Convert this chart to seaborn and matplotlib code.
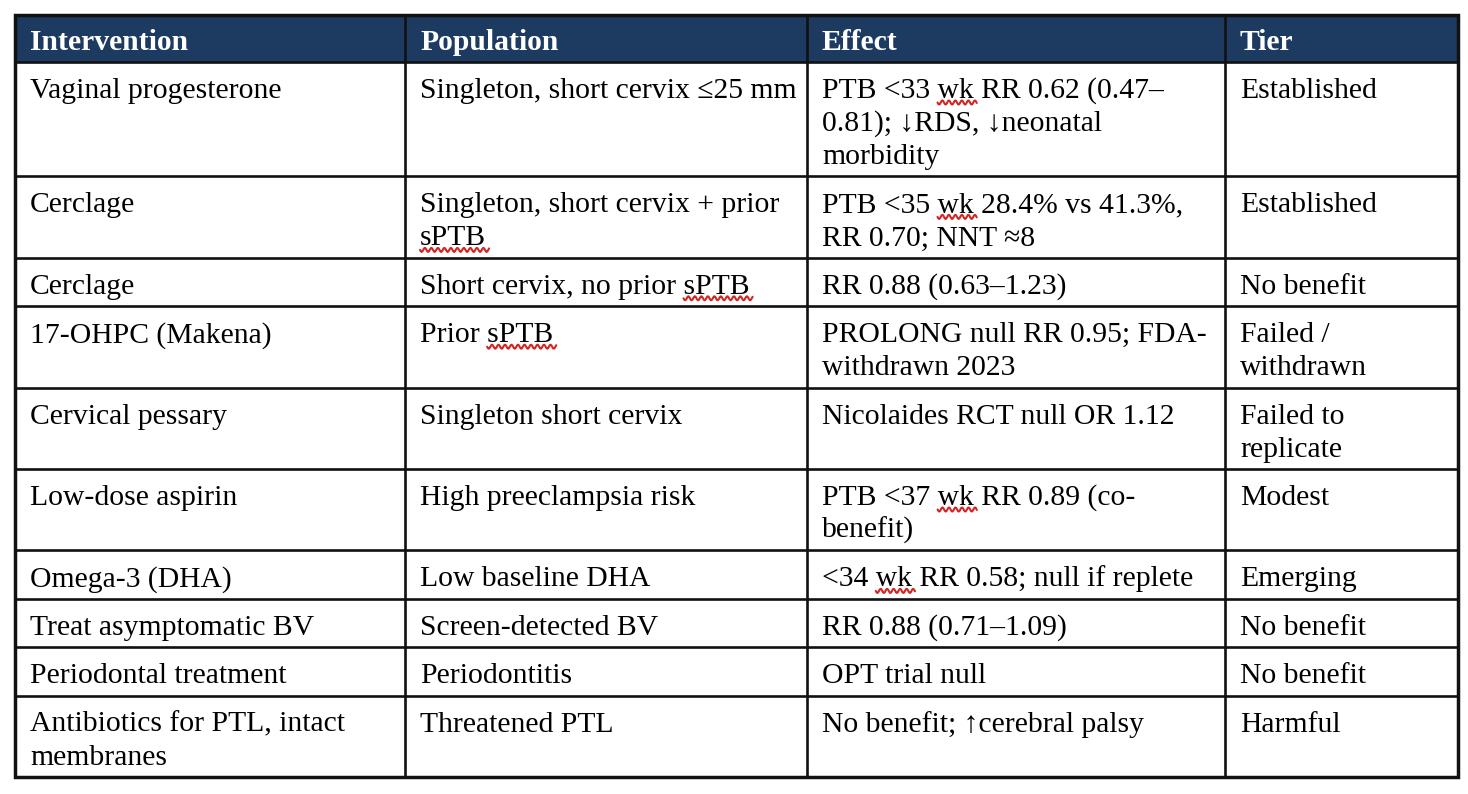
import numpy as np
import seaborn as sns
import matplotlib
matplotlib.use("Agg")
import matplotlib.pyplot as plt
from matplotlib.patches import Rectangle
from matplotlib.font_manager import FontProperties

# Table content
columns = ["Intervention", "Population", "Effect", "Tier"]
interventions = [
    "Vaginal progesterone",
    "Cerclage",
    "Cerclage",
    "17-OHPC (Makena)",
    "Cervical pessary",
    "Low-dose aspirin",
    "Omega-3 (DHA)",
    "Treat asymptomatic BV",
    "Periodontal treatment",
    "Antibiotics for PTL, intact\nmembranes",
]
populations = [
    "Singleton, short cervix ≤25 mm",
    "Singleton, short cervix + prior\nsPTB",
    "Short cervix, no prior sPTB",
    "Prior sPTB",
    "Singleton short cervix",
    "High preeclampsia risk",
    "Low baseline DHA",
    "Screen-detected BV",
    "Periodontitis",
    "Threatened PTL",
]
effects = [
    "PTB <33 wk RR 0.62 (0.47–\n0.81); ↓RDS, ↓neonatal\nmorbidity",
    "PTB <35 wk 28.4% vs 41.3%,\nRR 0.70; NNT ≈8",
    "RR 0.88 (0.63–1.23)",
    "PROLONG null RR 0.95; FDA-\nwithdrawn 2023",
    "Nicolaides RCT null OR 1.12",
    "PTB <37 wk RR 0.89 (co-\nbenefit)",
    "<34 wk RR 0.58; null if replete",
    "RR 0.88 (0.71–1.09)",
    "OPT trial null",
    "No benefit; ↑cerebral palsy",
]
tiers = [
    "Established",
    "Established",
    "No benefit",
    "Failed /\nwithdrawn",
    "Failed to\nreplicate",
    "Modest",
    "Emerging",
    "No benefit",
    "No benefit",
    "Harmful",
]
# words the word processor underlined as misspelt
flagged_words = ["wk", "sPTB"]

sns.set_theme(style="white")
fonts = ["Liberation Serif", "DejaVu Serif"]
plt.rcParams["font.family"] = fonts

W, H = 1468, 794
fig = plt.figure(figsize=(W / 100, H / 100), dpi=100)
ax = fig.add_axes([0, 0, 1, 1])
ax.set_xlim(0, W)
ax.set_ylim(H, 0)
ax.axis("off")

col_x = [15, 405, 807, 1225, 1458]
top, head_bottom = 15, 62
line_h, pad = 33.0, 15.4
navy = "#1d3b61"
fs = 21.3

table = list(zip(interventions, populations, effects, tiers))
n_lines = [max(c.count("\n") + 1 for c in row) for row in table]
row_edges = [head_bottom]
for n in n_lines:
    row_edges.append(row_edges[-1] + n * line_h + pad)
bottom = row_edges[-1]

# header band
ax.add_patch(Rectangle((col_x[0], top), col_x[-1] - col_x[0], head_bottom - top,
                       facecolor=navy, edgecolor="none", zorder=1))
for x, name in zip(col_x[:-1], columns):
    ax.text(x + 15, 50, name, color="white", fontsize=fs, fontweight="bold",
            va="baseline", ha="left", zorder=3)

# body text
fig.canvas.draw()
renderer = fig.canvas.get_renderer()
prop = FontProperties(family=fonts, size=fs)


def text_w(s):
    w, _, _ = renderer.get_text_width_height_descent(s, prop, ismath=False)
    return w


for r, row in enumerate(table):
    y0 = row_edges[r]
    for c, cell in enumerate(row):
        for i, line in enumerate(cell.split("\n")):
            xb = col_x[c] + 15
            yb = y0 + 36 + i * line_h
            ax.text(xb, yb, line, fontsize=fs, color="black",
                    va="baseline", ha="left", zorder=3)
            for word in flagged_words:
                idx = line.find(word)
                if idx < 0:
                    continue
                pre = line[:idx + len(word)]
                x1 = xb + text_w(pre)
                x0 = x1 - text_w(word)
                xs = np.linspace(x0, x1 + 3, 100)
                ys = yb + 4.5 + 2.0 * np.sin((xs - x0) * 2 * np.pi / 6.5)
                ax.plot(xs, ys, color="#d42525", lw=1.5, zorder=4)

# grid lines
ax.hlines(row_edges[:-1], col_x[0], col_x[-1], color="#111111", lw=1.9, zorder=2)
ax.vlines(col_x[1:-1], top, bottom, color="#111111", lw=1.9, zorder=2)
ax.add_patch(Rectangle((col_x[0], top), col_x[-1] - col_x[0], bottom - top,
                       facecolor="none", edgecolor="#111111", lw=2.5, zorder=5))

fig.savefig("out.png", dpi=100)
